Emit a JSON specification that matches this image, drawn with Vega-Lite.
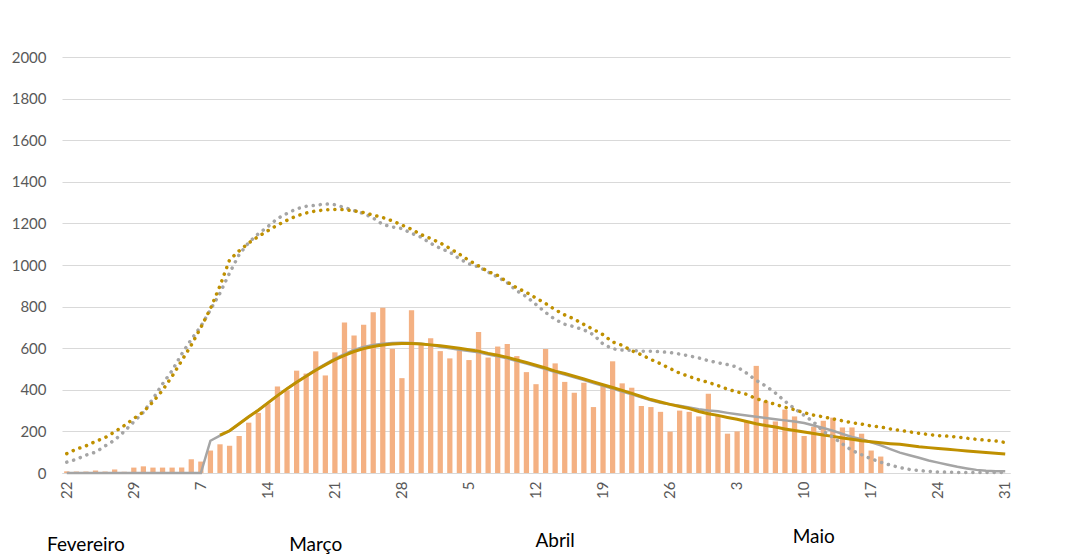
{
"$schema": "https://vega.github.io/schema/vega-lite/v6.json",
"width": 948, "height": 416,
"autosize": "none",
"padding": {"left": 62, "top": 57, "right": 75, "bottom": 83},
"background": "white",
"config": {"view": {"stroke": null}, "font": "Lato"},
"data": {"values": [
{"data":"2020-02-22","casos":8,"cinza":0,"cinzaPont":52,"douradoPont":93},
{"data":"2020-02-23","casos":7,"cinza":0,"cinzaPont":66,"douradoPont":115},
{"data":"2020-02-24","casos":7,"cinza":0,"cinzaPont":86,"douradoPont":130},
{"data":"2020-02-25","casos":12,"cinza":0,"cinzaPont":100,"douradoPont":152},
{"data":"2020-02-26","casos":7,"cinza":0,"cinzaPont":130,"douradoPont":170},
{"data":"2020-02-27","casos":17,"cinza":0,"cinzaPont":158,"douradoPont":198},
{"data":"2020-02-28","casos":6,"cinza":0,"cinzaPont":200,"douradoPont":228},
{"data":"2020-02-29","casos":26,"cinza":0,"cinzaPont":246,"douradoPont":262},
{"data":"2020-03-01","casos":32,"cinza":0,"cinzaPont":292,"douradoPont":294},
{"data":"2020-03-02","casos":26,"cinza":0,"cinzaPont":357,"douradoPont":342},
{"data":"2020-03-03","casos":26,"cinza":0,"cinzaPont":428,"douradoPont":398},
{"data":"2020-03-04","casos":26,"cinza":0,"cinzaPont":492,"douradoPont":465},
{"data":"2020-03-05","casos":26,"cinza":0,"cinzaPont":572,"douradoPont":540},
{"data":"2020-03-06","casos":66,"cinza":0,"cinzaPont":642,"douradoPont":615},
{"data":"2020-03-07","casos":55,"cinza":0,"cinzaPont":705,"douradoPont":700},
{"data":"2020-03-08","casos":108,"cinza":155,"cinzaPont":785,"douradoPont":790},
{"data":"2020-03-09","casos":138,"cinza":180,"dourado":182,"cinzaPont":865,"douradoPont":900},
{"data":"2020-03-10","casos":131,"cinza":202,"dourado":203,"cinzaPont":962,"douradoPont":1025},
{"data":"2020-03-11","casos":178,"cinza":236,"dourado":237,"cinzaPont":1050,"douradoPont":1068},
{"data":"2020-03-12","casos":242,"cinza":270,"dourado":270,"cinzaPont":1108,"douradoPont":1106},
{"data":"2020-03-13","casos":289,"cinza":302,"dourado":302,"cinzaPont":1150,"douradoPont":1137},
{"data":"2020-03-14","casos":334,"cinza":337,"dourado":337,"cinzaPont":1185,"douradoPont":1165},
{"data":"2020-03-15","casos":416,"cinza":372,"dourado":372,"cinzaPont":1223,"douradoPont":1192},
{"data":"2020-03-16","casos":397,"cinza":405,"dourado":405,"cinzaPont":1248,"douradoPont":1215},
{"data":"2020-03-17","casos":492,"cinza":437,"dourado":436,"cinzaPont":1270,"douradoPont":1236},
{"data":"2020-03-18","casos":478,"cinza":467,"dourado":465,"cinzaPont":1282,"douradoPont":1250},
{"data":"2020-03-19","casos":585,"cinza":497,"dourado":494,"cinzaPont":1287,"douradoPont":1260},
{"data":"2020-03-20","casos":469,"cinza":524,"dourado":520,"cinzaPont":1294,"douradoPont":1265},
{"data":"2020-03-21","casos":580,"cinza":550,"dourado":545,"cinzaPont":1290,"douradoPont":1267},
{"data":"2020-03-22","casos":724,"cinza":572,"dourado":566,"cinzaPont":1276,"douradoPont":1266},
{"data":"2020-03-23","casos":661,"cinza":592,"dourado":584,"cinzaPont":1262,"douradoPont":1260},
{"data":"2020-03-24","casos":713,"cinza":606,"dourado":598,"cinzaPont":1247,"douradoPont":1252},
{"data":"2020-03-25","casos":773,"cinza":616,"dourado":608,"cinzaPont":1226,"douradoPont":1240},
{"data":"2020-03-26","casos":795,"cinza":622,"dourado":615,"cinzaPont":1195,"douradoPont":1228},
{"data":"2020-03-27","casos":597,"cinza":625,"dourado":620,"cinzaPont":1183,"douradoPont":1212},
{"data":"2020-03-28","casos":456,"cinza":626,"dourado":622,"cinzaPont":1175,"douradoPont":1192},
{"data":"2020-03-30","casos":782,"cinza":625,"dourado":622,"cinzaPont":1152,"douradoPont":1172},
{"data":"2020-03-31","casos":615,"cinza":621,"dourado":620,"cinzaPont":1134,"douradoPont":1146},
{"data":"2020-04-01","casos":648,"cinza":615,"dourado":616,"cinzaPont":1104,"douradoPont":1127},
{"data":"2020-04-02","casos":586,"cinza":607,"dourado":612,"cinzaPont":1080,"douradoPont":1106},
{"data":"2020-04-03","casos":551,"cinza":600,"dourado":606,"cinzaPont":1062,"douradoPont":1080},
{"data":"2020-04-04","casos":590,"cinza":593,"dourado":600,"cinzaPont":1030,"douradoPont":1052},
{"data":"2020-04-05","casos":543,"cinza":587,"dourado":593,"cinzaPont":1005,"douradoPont":1022},
{"data":"2020-04-06","casos":678,"cinza":580,"dourado":586,"cinzaPont":991,"douradoPont":996},
{"data":"2020-04-07","casos":555,"cinza":570,"dourado":575,"cinzaPont":966,"douradoPont":968},
{"data":"2020-04-08","casos":608,"cinza":561,"dourado":566,"cinzaPont":942,"douradoPont":950},
{"data":"2020-04-09","casos":620,"cinza":551,"dourado":556,"cinzaPont":915,"douradoPont":918},
{"data":"2020-04-10","casos":562,"cinza":538,"dourado":543,"cinzaPont":876,"douradoPont":890},
{"data":"2020-04-11","casos":485,"cinza":526,"dourado":531,"cinzaPont":848,"douradoPont":868},
{"data":"2020-04-12","casos":427,"cinza":513,"dourado":518,"cinzaPont":810,"douradoPont":841},
{"data":"2020-04-13","casos":596,"cinza":500,"dourado":505,"cinzaPont":772,"douradoPont":815},
{"data":"2020-04-14","casos":527,"cinza":485,"dourado":490,"cinzaPont":738,"douradoPont":785},
{"data":"2020-04-15","casos":438,"cinza":473,"dourado":478,"cinzaPont":715,"douradoPont":760},
{"data":"2020-04-16","casos":386,"cinza":460,"dourado":465,"cinzaPont":703,"douradoPont":740},
{"data":"2020-04-17","casos":434,"cinza":447,"dourado":452,"cinzaPont":688,"douradoPont":714},
{"data":"2020-04-18","casos":317,"cinza":433,"dourado":438,"cinzaPont":665,"douradoPont":690},
{"data":"2020-04-19","casos":425,"cinza":419,"dourado":424,"cinzaPont":620,"douradoPont":665},
{"data":"2020-04-20","casos":537,"cinza":406,"dourado":411,"cinzaPont":597,"douradoPont":630},
{"data":"2020-04-21","casos":431,"cinza":392,"dourado":397,"cinzaPont":591,"douradoPont":614},
{"data":"2020-04-22","casos":410,"cinza":378,"dourado":383,"cinzaPont":590,"douradoPont":588},
{"data":"2020-04-23","casos":322,"cinza":364,"dourado":368,"cinzaPont":586,"douradoPont":568},
{"data":"2020-04-24","casos":317,"cinza":350,"dourado":353,"cinzaPont":585,"douradoPont":546},
{"data":"2020-04-25","casos":294,"cinza":338,"dourado":341,"cinzaPont":583,"douradoPont":525},
{"data":"2020-04-26","casos":199,"cinza":330,"dourado":330,"cinzaPont":579,"douradoPont":502},
{"data":"2020-04-27","casos":300,"cinza":323,"dourado":320,"cinzaPont":572,"douradoPont":480},
{"data":"2020-04-28","casos":294,"cinza":315,"dourado":310,"cinzaPont":563,"douradoPont":464},
{"data":"2020-04-29","casos":272,"cinza":307,"dourado":296,"cinzaPont":553,"douradoPont":448},
{"data":"2020-04-30","casos":381,"cinza":301,"dourado":285,"cinzaPont":540,"douradoPont":436},
{"data":"2020-05-01","casos":279,"cinza":297,"dourado":277,"cinzaPont":530,"douradoPont":420},
{"data":"2020-05-02","casos":189,"cinza":289,"dourado":267,"cinzaPont":521,"douradoPont":403},
{"data":"2020-05-03","casos":200,"cinza":282,"dourado":258,"cinzaPont":510,"douradoPont":390},
{"data":"2020-05-04","casos":249,"cinza":276,"dourado":248,"cinzaPont":480,"douradoPont":378},
{"data":"2020-05-05","casos":515,"cinza":270,"dourado":237,"cinzaPont":445,"douradoPont":357},
{"data":"2020-05-06","casos":345,"cinza":264,"dourado":228,"cinzaPont":418,"douradoPont":344},
{"data":"2020-05-07","casos":248,"cinza":258,"dourado":221,"cinzaPont":385,"douradoPont":330},
{"data":"2020-05-08","casos":305,"cinza":253,"dourado":212,"cinzaPont":345,"douradoPont":316},
{"data":"2020-05-09","casos":272,"cinza":248,"dourado":204,"cinzaPont":310,"douradoPont":304},
{"data":"2020-05-10","casos":178,"cinza":240,"dourado":197,"cinzaPont":277,"douradoPont":290},
{"data":"2020-05-11","casos":222,"cinza":228,"dourado":190,"cinzaPont":245,"douradoPont":278},
{"data":"2020-05-12","casos":251,"cinza":216,"dourado":183,"cinzaPont":200,"douradoPont":270},
{"data":"2020-05-13","casos":266,"cinza":203,"dourado":176,"cinzaPont":172,"douradoPont":260},
{"data":"2020-05-14","casos":219,"cinza":188,"dourado":168,"cinzaPont":140,"douradoPont":251},
{"data":"2020-05-15","casos":219,"cinza":173,"dourado":162,"cinzaPont":108,"douradoPont":242},
{"data":"2020-05-16","casos":189,"cinza":162,"dourado":155,"cinzaPont":88,"douradoPont":235},
{"data":"2020-05-17","casos":108,"cinza":148,"dourado":150,"cinzaPont":68,"douradoPont":226},
{"data":"2020-05-18","casos":79,"cinza":133,"dourado":145,"cinzaPont":52,"douradoPont":221},
{"data":"2020-05-19","cinza":115,"dourado":141,"cinzaPont":38,"douradoPont":212},
{"data":"2020-05-20","cinza":98,"dourado":138,"cinzaPont":26,"douradoPont":205},
{"data":"2020-05-21","cinza":85,"dourado":132,"cinzaPont":17,"douradoPont":198},
{"data":"2020-05-22","cinza":73,"dourado":126,"cinzaPont":12,"douradoPont":191},
{"data":"2020-05-23","cinza":60,"dourado":122,"cinzaPont":8,"douradoPont":185},
{"data":"2020-05-24","cinza":50,"dourado":118,"cinzaPont":5,"douradoPont":180},
{"data":"2020-05-25","cinza":40,"dourado":114,"cinzaPont":4,"douradoPont":177},
{"data":"2020-05-26","cinza":30,"dourado":110,"cinzaPont":3,"douradoPont":173},
{"data":"2020-05-27","cinza":22,"dourado":106,"cinzaPont":2,"douradoPont":167},
{"data":"2020-05-28","cinza":15,"dourado":102,"cinzaPont":2,"douradoPont":162},
{"data":"2020-05-29","cinza":11,"dourado":98,"cinzaPont":2,"douradoPont":158},
{"data":"2020-05-30","cinza":9,"dourado":95,"cinzaPont":2,"douradoPont":154},
{"data":"2020-05-31","cinza":8,"dourado":91,"cinzaPont":2,"douradoPont":147}
]},
"encoding": {
  "x": {"field": "data", "type": "ordinal",
    "scale": {"paddingInner": 0.45, "paddingOuter": 0.225},
    "axis": {"values": ["2020-02-22","2020-02-29","2020-03-07","2020-03-14","2020-03-21","2020-03-28","2020-04-05","2020-04-12","2020-04-19","2020-04-26","2020-05-03","2020-05-10","2020-05-17","2020-05-24","2020-05-31"],
      "labelExpr": "'' + toNumber(substring(datum.value, 8, 10))",
      "labelAngle": -90, "ticks": false, "domainColor": "#D9D9D9", "domainWidth": 1,
      "labelColor": "#595959", "labelFontSize": 15, "labelPadding": 8, "title": null, "grid": false}}
},
"layer": [
  {"mark": {"type": "bar", "color": "#F4B183"},
   "encoding": {"y": {"field": "casos", "type": "quantitative", "title": null,
     "scale": {"domain": [0, 2000], "nice": false},
     "axis": {"values": [0,200,400,600,800,1000,1200,1400,1600,1800,2000], "format": "d", "domain": false, "ticks": false,
       "gridColor": "#D9D9D9", "gridWidth": 1, "labelColor": "#595959", "labelFontSize": 15, "labelPadding": 16}}}},
  {"mark": {"type": "line", "color": "#A5A5A5", "strokeWidth": 2.5},
   "encoding": {"y": {"field": "cinza", "type": "quantitative", "title": null}}},
  {"mark": {"type": "line", "color": "#BF9000", "strokeWidth": 3},
   "encoding": {"y": {"field": "dourado", "type": "quantitative", "title": null}}},
  {"mark": {"type": "line", "color": "#A5A5A5", "strokeWidth": 3.5, "strokeDash": [0.1, 7], "strokeCap": "round"},
   "encoding": {"y": {"field": "cinzaPont", "type": "quantitative", "title": null}}},
  {"mark": {"type": "line", "color": "#BF9000", "strokeWidth": 3.5, "strokeDash": [0.1, 7], "strokeCap": "round"},
   "encoding": {"y": {"field": "douradoPont", "type": "quantitative", "title": null}}},
  {"data": {"values": [{"data": "2020-02-24", "mes": "Fevereiro"}, {"data": "2020-03-19", "mes": "Março"}]},
   "mark": {"type": "text", "fontSize": 19, "color": "#000000", "align": "center", "baseline": "middle", "dy": 72},
   "encoding": {"y": {"datum": 0, "type": "quantitative"}, "text": {"field": "mes"}}},
  {"data": {"values": [{"data": "2020-04-14", "mes": "Abril"}]},
   "mark": {"type": "text", "fontSize": 19, "color": "#000000", "align": "center", "baseline": "middle", "dy": 68},
   "encoding": {"y": {"datum": 0, "type": "quantitative"}, "text": {"field": "mes"}}},
  {"data": {"values": [{"data": "2020-05-11", "mes": "Maio"}]},
   "mark": {"type": "text", "fontSize": 19, "color": "#000000", "align": "center", "baseline": "middle", "dy": 64},
   "encoding": {"y": {"datum": 0, "type": "quantitative"}, "text": {"field": "mes"}}}
]
}
